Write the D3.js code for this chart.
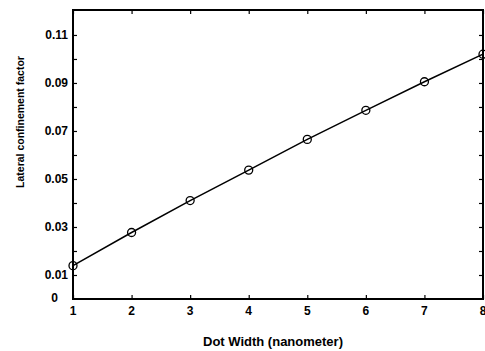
<!DOCTYPE html>
<html>
<head>
<meta charset="utf-8">
<script src="https://cdn.jsdelivr.net/npm/d3@7"></script>
<style>
  body { margin: 0; background: #fff; }
  text { font-family: "Liberation Sans", Arial, sans-serif; font-weight: bold; fill: #000; }
</style>
</head>
<body>
<script>
var width = 485;
var height = 351;

// chart values
var dotWidth = [1, 2, 3, 4, 5, 6, 7, 8];
var confinement = [0.0139, 0.0277, 0.0410, 0.0537, 0.0665, 0.0786, 0.0905, 0.1020];
var yTickValues = [0.01, 0.02, 0.03, 0.04, 0.05, 0.06, 0.07, 0.08, 0.09, 0.10, 0.11];
var yLabelValues = [0.01, 0.03, 0.05, 0.07, 0.09, 0.11];

var margin = {top: 10, right: 2, bottom: 52, left: 73};

var x = d3.scaleLinear()
    .domain([1, 8])
    .range([margin.left, width - margin.right]);

var y = d3.scaleLinear()
    .domain([0, 0.1204])
    .range([height - margin.bottom, margin.top]);

var svg = d3.select('body')
    .append('svg')
    .attr('width', width)
    .attr('height', height);

// inward ticks on all four sides
function ticksOnly(axis, g){
    g.call(axis);
    g.select('.domain').remove();
    g.selectAll('text').remove();
    g.selectAll('line').attr('stroke', '#000').attr('stroke-width', 1.2);
}

svg.append('g')
    .attr('transform', 'translate(0,' + y(0) + ')')
    .call(ticksOnly.bind(null, d3.axisTop(x).tickValues(dotWidth).tickSize(4)));
svg.append('g')
    .attr('transform', 'translate(0,' + margin.top + ')')
    .call(ticksOnly.bind(null, d3.axisBottom(x).tickValues(dotWidth).tickSize(4)));
svg.append('g')
    .attr('transform', 'translate(' + margin.left + ',0)')
    .call(ticksOnly.bind(null, d3.axisRight(y).tickValues(yTickValues).tickSize(4)));
svg.append('g')
    .attr('transform', 'translate(' + (width - margin.right) + ',0)')
    .call(ticksOnly.bind(null, d3.axisLeft(y).tickValues(yTickValues).tickSize(4)));

// frame
svg.append('rect')
    .attr('x', x(1))
    .attr('y', y.range()[1])
    .attr('width', x(8) - x(1))
    .attr('height', y(0) - y.range()[1])
    .attr('fill', 'none')
    .attr('stroke', '#000')
    .attr('stroke-width', 2);

// tick labels
svg.selectAll('.xlab')
    .data(dotWidth)
    .enter().append('text')
    .attr('x', function(d){ return x(d); })
    .attr('y', y(0) + 16)
    .attr('text-anchor', 'middle')
    .style('font-size', '12px')
    .text(function(d){ return d; });

svg.selectAll('.ylab')
    .data(yLabelValues)
    .enter().append('text')
    .attr('x', margin.left - 5)
    .attr('y', function(d){ return y(d) + 4; })
    .attr('text-anchor', 'end')
    .style('font-size', '12px')
    .text(function(d){ return d3.format('.2f')(d); });

svg.append('text')
    .attr('x', margin.left - 15)
    .attr('y', y(0) + 3)
    .attr('text-anchor', 'end')
    .style('font-size', '12px')
    .text('0');

// axis titles
svg.append('text')
    .attr('x', 273)
    .attr('y', 346)
    .attr('text-anchor', 'middle')
    .style('font-size', '13px')
    .text('Dot Width (nanometer)');

svg.append('text')
    .attr('transform', 'translate(24,122) rotate(-90)')
    .attr('text-anchor', 'middle')
    .style('font-size', '10.5px')
    .text('Lateral confinement factor');

// data line + markers
var pts = dotWidth.map(function(d, i){ return [d, confinement[i]]; });

svg.append('path')
    .datum(pts)
    .attr('fill', 'none')
    .attr('stroke', '#000')
    .attr('stroke-width', 1.5)
    .attr('d', d3.line()
        .x(function(d){ return x(d[0]); })
        .y(function(d){ return y(d[1]); }));

svg.selectAll('.pt')
    .data(pts)
    .enter().append('circle')
    .attr('cx', function(d){ return x(d[0]); })
    .attr('cy', function(d){ return y(d[1]); })
    .attr('r', 4)
    .attr('fill', 'none')
    .attr('stroke', '#000')
    .attr('stroke-width', 1.3);
</script>
</body>
</html>
